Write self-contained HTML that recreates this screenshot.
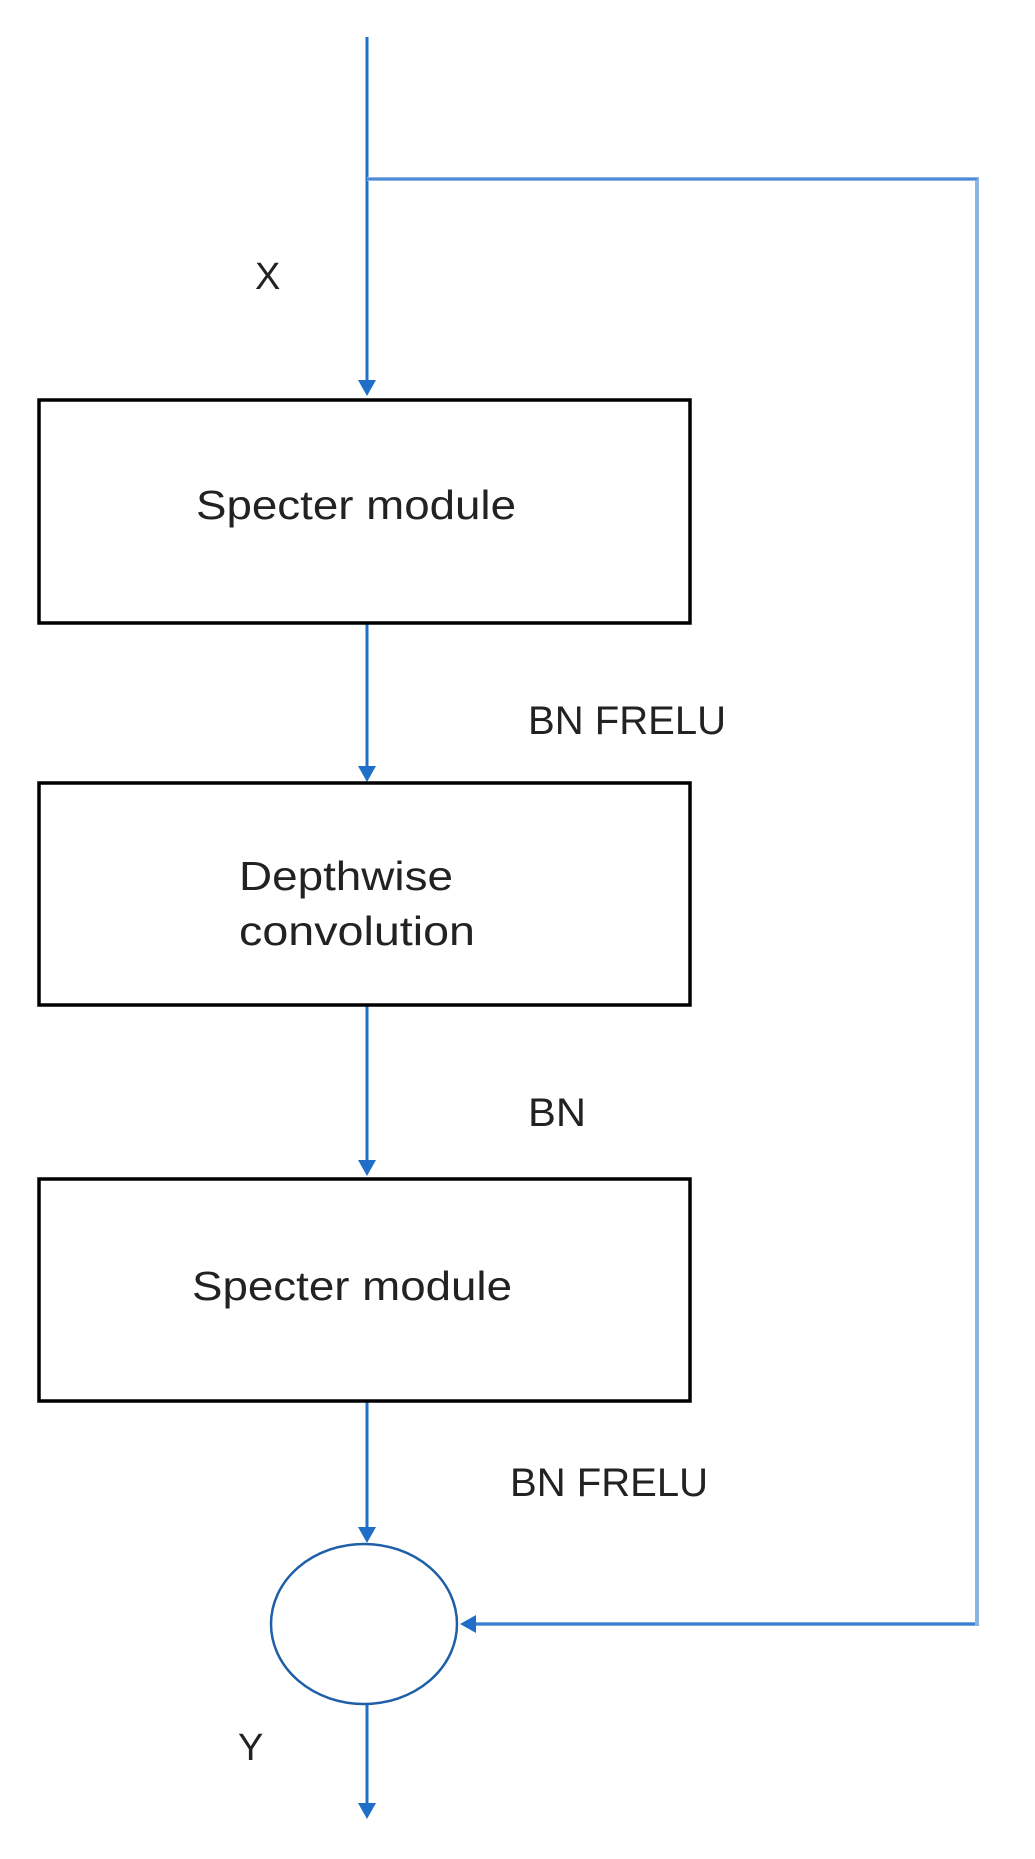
<!DOCTYPE html>
<html><head><meta charset="utf-8"><style>html,body{margin:0;padding:0;background:#fff}svg{display:block}</style></head>
<body>
<svg width="1035" height="1859" viewBox="0 0 1035 1859" xmlns="http://www.w3.org/2000/svg" font-family="Liberation Sans, sans-serif" fill="#111">
<g stroke="#1f6fc8" stroke-width="3" fill="none">
<line x1="367" y1="37" x2="367" y2="384"/>
<line x1="367" y1="623" x2="367" y2="770"/>
<line x1="367" y1="1005" x2="367" y2="1163"/>
<line x1="367" y1="1401" x2="367" y2="1531"/>
<line x1="367" y1="1704" x2="367" y2="1807"/>
</g>
<polyline points="367,179 977,179 977,1624 472,1624" stroke="#8db3e2" stroke-width="4" fill="none"/>
<line x1="367" y1="179" x2="977" y2="179" stroke="#4a8ad6" stroke-width="2"/>
<line x1="975" y1="1624" x2="472" y2="1624" stroke="#3a80d2" stroke-width="2.5"/>
<g fill="#1f6fc8">
<polygon points="358,380 376,380 367,396"/>
<polygon points="358,766 376,766 367,782"/>
<polygon points="358,1160 376,1160 367,1176"/>
<polygon points="358,1527 376,1527 367,1543"/>
<polygon points="358,1803 376,1803 367,1819"/>
<polygon points="476,1615 476,1633 460,1624"/>
</g>
<g fill="none" stroke="#000" stroke-width="3.5">
<rect x="39" y="400" width="651" height="223"/>
<rect x="39" y="783" width="651" height="222"/>
<rect x="39" y="1179" width="651" height="222"/>
</g>
<ellipse cx="364" cy="1624" rx="93" ry="80" fill="none" stroke="#1f5fa8" stroke-width="2.5"/>
<g font-size="40" fill="#222">
<text x="255" y="289" font-size="38">X</text>
<text x="196" y="519" font-size="41" textLength="320" lengthAdjust="spacingAndGlyphs">Specter module</text>
<text x="528" y="734" textLength="198" lengthAdjust="spacingAndGlyphs">BN FRELU</text>
<text x="239" y="890" font-size="41" textLength="214" lengthAdjust="spacingAndGlyphs">Depthwise</text>
<text x="239" y="945" font-size="41" textLength="236" lengthAdjust="spacingAndGlyphs">convolution</text>
<text x="528" y="1126" textLength="58" lengthAdjust="spacingAndGlyphs">BN</text>
<text x="192" y="1300" font-size="41" textLength="320" lengthAdjust="spacingAndGlyphs">Specter module</text>
<text x="510" y="1496" textLength="198" lengthAdjust="spacingAndGlyphs">BN FRELU</text>
<text x="238" y="1760" font-size="38">Y</text>
</g>
</svg>
</body></html>
